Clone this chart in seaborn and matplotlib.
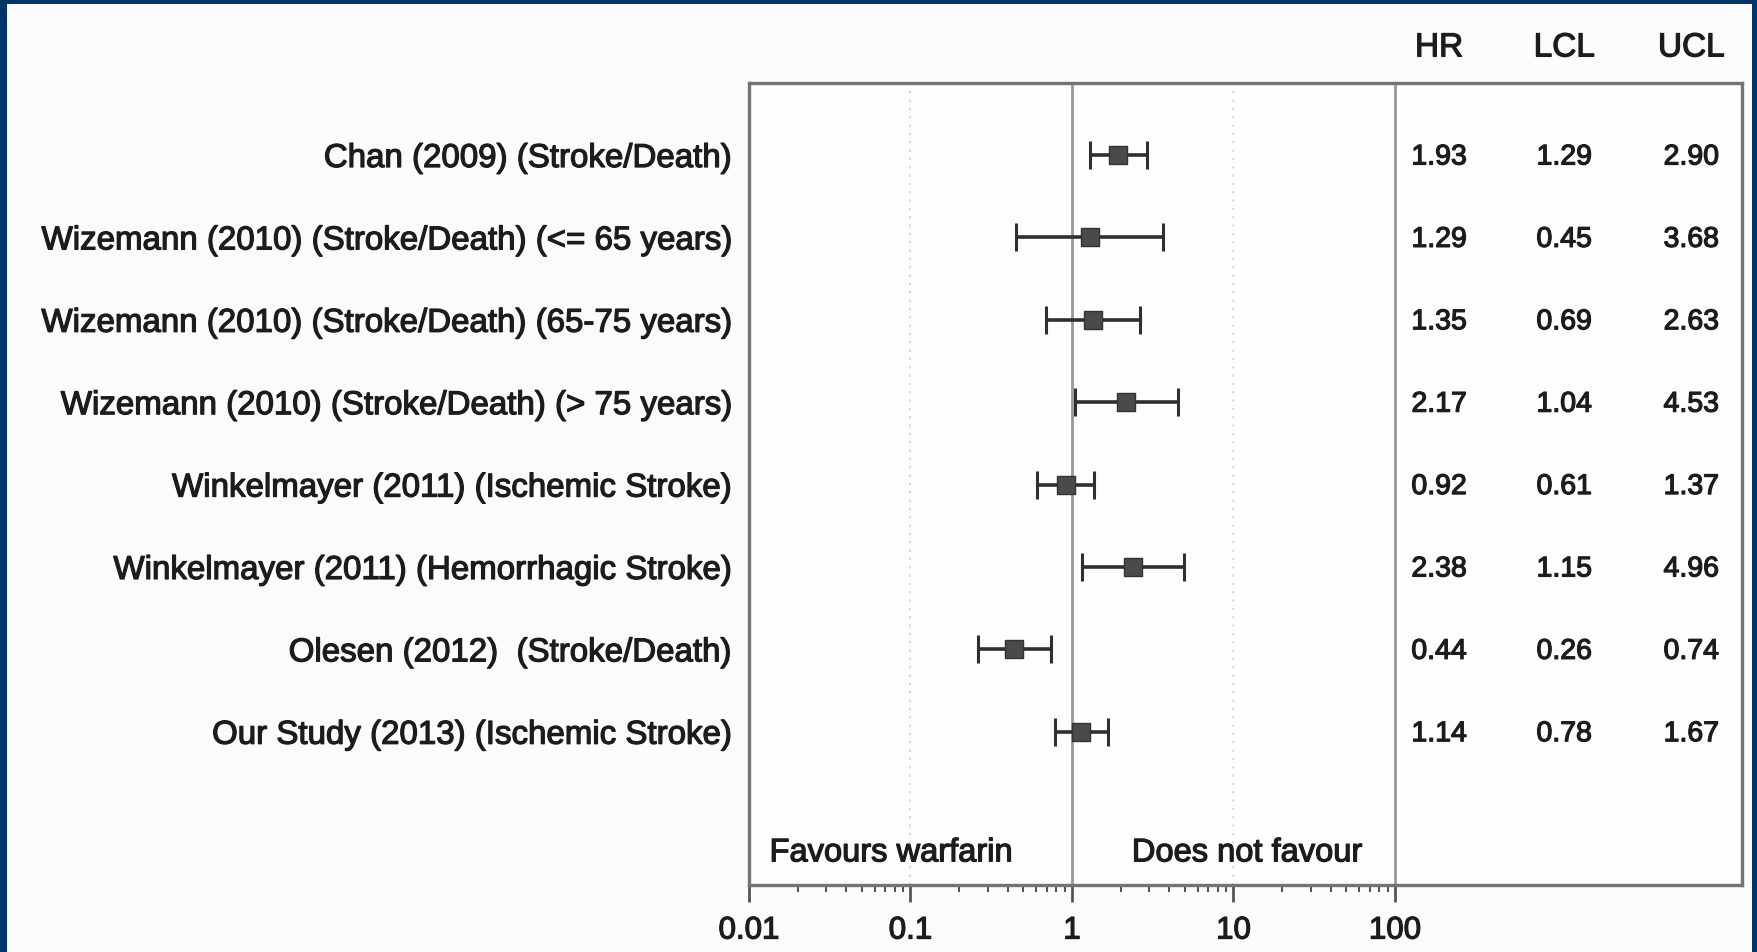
import numpy as np
import pandas as pd
import matplotlib
matplotlib.use("Agg")
import matplotlib.pyplot as plt
import matplotlib.patheffects as pe
import seaborn as sns
from matplotlib.patches import Rectangle
from matplotlib.ticker import FixedLocator, NullFormatter

# ---------------- data ----------------
studies = [
    "Chan (2009) (Stroke/Death)",
    "Wizemann (2010) (Stroke/Death) (<= 65 years)",
    "Wizemann (2010) (Stroke/Death) (65-75 years)",
    "Wizemann (2010) (Stroke/Death) (> 75 years)",
    "Winkelmayer (2011) (Ischemic Stroke)",
    "Winkelmayer (2011) (Hemorrhagic Stroke)",
    "Olesen (2012)  (Stroke/Death)",
    "Our Study (2013) (Ischemic Stroke)",
]
hr = [1.93, 1.29, 1.35, 2.17, 0.92, 2.38, 0.44, 1.14]
lcl = [1.29, 0.45, 0.69, 1.04, 0.61, 1.15, 0.26, 0.78]
ucl = [2.90, 3.68, 2.63, 4.53, 1.37, 4.96, 0.74, 1.67]
table_headers = ["HR", "LCL", "UCL"]
x_ticks = [0.01, 0.1, 1, 10, 100]
x_tick_labels = ["0.01", "0.1", "1", "10", "100"]
left_note = "Favours warfarin"
right_note = "Does not favour"

# ---------------- style ----------------
sns.set_theme(style="white")
plt.rcParams["font.family"] = ["Liberation Sans", "DejaVu Sans"]
TXT = "#1c1c1c"
thick = [pe.withStroke(linewidth=0.9, foreground=TXT)]

df = pd.DataFrame({"study": studies, "HR": hr, "LCL": lcl, "UCL": ucl})
df["row"] = np.arange(len(df))

W, H = 1758, 953
fig = plt.figure(figsize=(W / 100, H / 100), dpi=100, facecolor="#00346a")
fig.patches.append(Rectangle((7 / W, 0), (1752 - 7) / W, (H - 5) / H,
                             transform=fig.transFigure, facecolor="#fbfbfb",
                             edgecolor="none", zorder=-10))

ax_l, ax_r, ax_t, ax_b = 749, 1742, 84, 886
ax = fig.add_axes([ax_l / W, (H - ax_b) / H, (ax_r - ax_l) / W, (ax_b - ax_t) / H])
ax.set_zorder(1)
ax.set_facecolor("#fdfdfd")
ax.set_xscale("log")

# reference lines
ax.axvline(1, color="#999999", lw=2, zorder=1)
ax.axvline(100, color="#999999", lw=2, zorder=1)
for v in (0.1, 10):
    ax.axvline(v, color="#d9d9d9", lw=1.5, ls=(0, (1, 3)), zorder=1)

# confidence intervals
ax.errorbar(df["HR"], df["row"],
            xerr=[df["HR"] - df["LCL"], df["UCL"] - df["HR"]],
            fmt="none", ecolor="#2f2f2f", elinewidth=2.6,
            capsize=10, capthick=2.2, zorder=2)
# point estimates
sns.scatterplot(data=df, x="HR", y="row", marker="s", s=175,
                color="#4a4a4a", edgecolor="#333333", linewidth=1,
                ax=ax, zorder=3, legend=False)

frac100 = (1395 - ax_l) / (ax_r - ax_l)
ax.set_xlim(0.01, 10 ** (-2 + 4 / frac100))
ax.set_ylim(8.86, -0.874)

# y labels
ax.set_yticks(df["row"])
ax.set_yticklabels(df["study"], fontsize=23.8, color=TXT)
ax.tick_params(axis="y", length=0, pad=14, left=False)
ax.set_xlabel("")
ax.set_ylabel("")

# x ticks
ax.xaxis.set_major_locator(FixedLocator(x_ticks))
ax.set_xticklabels(x_tick_labels)
minor = [m * 10.0 ** e for e in range(-2, 2) for m in range(2, 10)]
ax.xaxis.set_minor_locator(FixedLocator(minor))
ax.xaxis.set_minor_formatter(NullFormatter())
ax.tick_params(axis="x", which="major", direction="out", length=12, width=2,
               color="#555555", labelsize=22.5, labelcolor=TXT, pad=10,
               bottom=True)
ax.tick_params(axis="x", which="minor", direction="out", length=5, width=1.5,
               color="#555555", bottom=True)

for lab in ax.get_yticklabels() + ax.get_xticklabels():
    lab.set_path_effects(thick)

for s in ax.spines.values():
    s.set_color("#747474")
    s.set_linewidth(2.4)

# table
tr = ax.get_yaxis_transform()
col_x = [0.695, 0.821, 0.949]
cols = [hr, lcl, ucl]
for cx, head, vals in zip(col_x, table_headers, cols):
    ax.text(cx, -1.30, head, transform=tr, ha="center", va="center",
            fontsize=24, color=TXT, clip_on=False, path_effects=thick)
    for r, v in zip(df["row"], vals):
        ax.text(cx, r + 0.03, f"{v:.2f}", transform=tr, ha="center",
                va="center", fontsize=20.5, color=TXT, path_effects=thick)

ax.text(0.143, 8.47, left_note, transform=tr, ha="center", va="center",
        fontsize=23.5, color=TXT, path_effects=thick)
ax.text(0.5015, 8.47, right_note, transform=tr, ha="center", va="center",
        fontsize=23.5, color=TXT, path_effects=thick)

fig.savefig("out.png", dpi=100, facecolor=fig.get_facecolor())
